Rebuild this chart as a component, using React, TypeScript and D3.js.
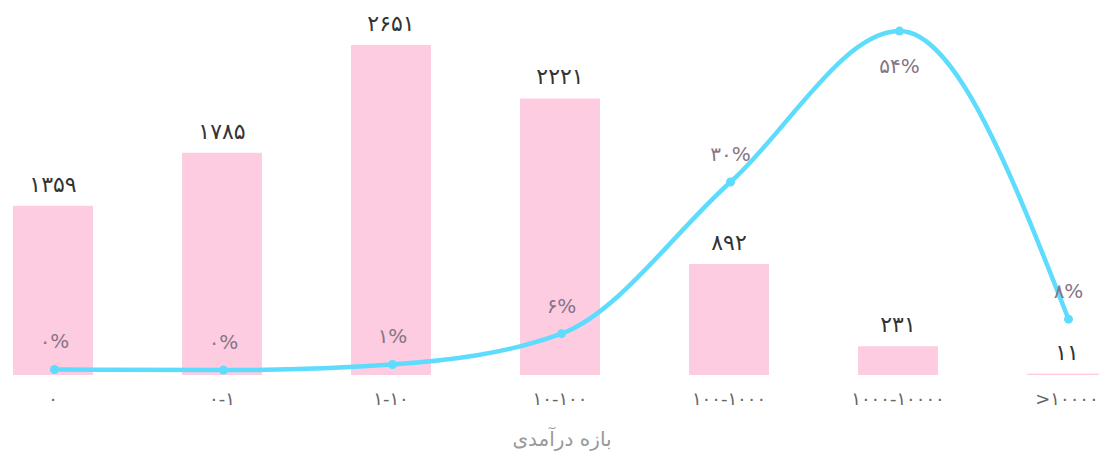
import { useEffect } from "react";
import * as d3 from "d3";

// income ranges (x axis)
const categories = ["۰", "۰-۱", "۱-۱۰", "۱۰-۱۰۰", "۱۰۰-۱۰۰۰", "۱۰۰۰-۱۰۰۰۰", ">۱۰۰۰۰"];
// count per range (bars)
const counts = [1359, 1785, 2651, 2221, 892, 231, 11];
// share per range in percent (line)
const shares = [0.4, 0.3, 1.2, 6.1, 30.2, 54.2, 8.4];

const axisTitle = "بازه درآمدی";

const width = 1099;
const height = 452;

const toFa = (s: string) => s.replace(/[0-9]/g, (c) => "۰۱۲۳۴۵۶۷۸۹"[+c]);

const App = () => {
  useEffect(() => {
    document.body.style.margin = "0";
  }, []);

  const x = d3
    .scaleBand<string>()
    .domain(categories)
    .range([-31.5, 1151.5])
    .paddingInner(0.527)
    .paddingOuter(0.2635);

  const y = d3.scaleLinear().domain([0, 3000]).range([375, 1.5]);
  const y2 = d3.scaleLinear().domain([0, 60]).range([372, 372 - 60 * 6.29]);

  const cx = (c: string) => (x(c) ?? 0) + x.bandwidth() / 2 + 1.5;

  const line = d3
    .line<number>()
    .x((_, i) => cx(categories[i]))
    .y((d) => y2(d))
    .curve(d3.curveMonotoneX);

  const font = "'DejaVu Sans', sans-serif";

  return (
    <svg
      width={width}
      height={height}
      style={{ position: "absolute", left: 0, top: 0, fontFamily: font }}
    >
      {/* bars */}
      {counts.map((v, i) => (
        <g key={"b" + i}>
          <rect
            x={x(categories[i])}
            y={y(v)}
            width={x.bandwidth()}
            height={y(0) - y(v)}
            fill="#fdcce1"
          />
          <text
            x={(x(categories[i]) ?? 0) + x.bandwidth() / 2}
            y={y(v) - 14}
            textAnchor="middle"
            fontSize={22}
            fill="#333"
          >
            {toFa(String(v))}
          </text>
        </g>
      ))}

      {/* line */}
      <path d={line(shares) ?? ""} fill="none" stroke="#5edcfd" strokeWidth={4.5} />
      {shares.map((v, i) => (
        <g key={"p" + i}>
          <circle cx={cx(categories[i])} cy={y2(v)} r={4.5} fill="#5edcfd" />
          <text
            x={cx(categories[i])}
            y={y2(v) < 60 ? y2(v) + 42 : y2(v) - 21}
            textAnchor="middle"
            fontSize={20}
            fill="#867586"
          >
            {toFa(String(Math.round(v))) + "%"}
          </text>
        </g>
      ))}

      {/* x axis labels */}
      {categories.map((c) => (
        <text
          key={c}
          x={(x(c) ?? 0) + x.bandwidth() / 2}
          y={405}
          textAnchor="middle"
          fontSize={18}
          fill="#666"
          direction="ltr"
          style={{ unicodeBidi: "bidi-override" }}
        >
          {c}
        </text>
      ))}
      <text x={562} y={446} textAnchor="middle" fontSize={20} fill="#999" direction="rtl">
        {axisTitle}
      </text>
    </svg>
  );
};

export default App;
